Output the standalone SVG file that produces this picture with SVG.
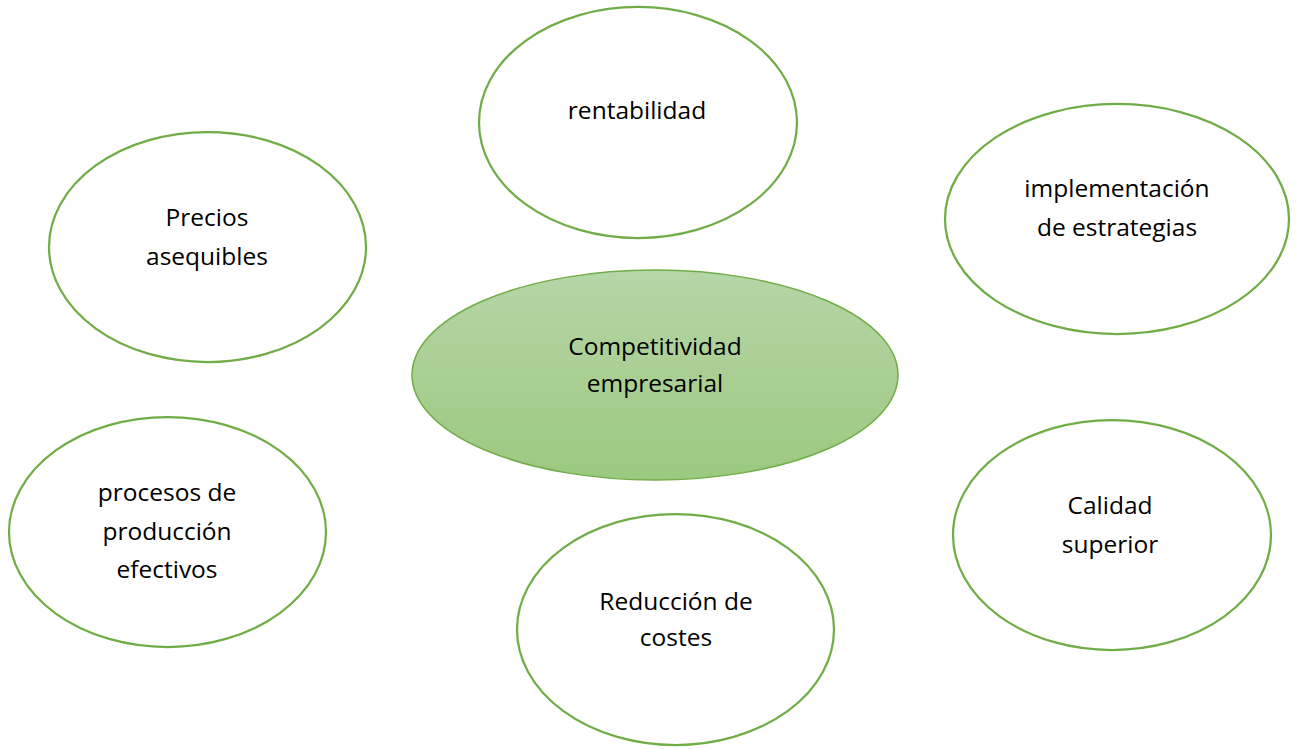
<svg xmlns="http://www.w3.org/2000/svg" width="1299" height="749" viewBox="0 0 1299 749">
<style>
.node{fill:#ffffff;stroke:#70ad47;stroke-width:2.25}
.center{stroke:#70ad47;stroke-width:1.5}
text{font-family:"Open Sans","Liberation Sans",sans-serif;font-size:24.5px;fill:#000000;text-anchor:middle}
</style>
<defs>
<linearGradient id="g" x1="0" y1="0" x2="0" y2="1">
<stop offset="0" stop-color="#b5d6a7"/>
<stop offset="0.5" stop-color="#aacf94"/>
<stop offset="1" stop-color="#9bc97f"/>
</linearGradient>
</defs>
<g id="connectors"></g>
<g id="n-rentabilidad">
<ellipse class="node" cx="638" cy="122.5" rx="159" ry="115.5"/>
<text x="637" y="119">rentabilidad</text>
</g>
<g id="n-implementacion">
<ellipse class="node" cx="1117" cy="219" rx="172" ry="115"/>
<text x="1117" y="197">implementación</text>
<text x="1117" y="236">de estrategias</text>
</g>
<g id="n-precios">
<ellipse class="node" cx="207.5" cy="247" rx="158.5" ry="115"/>
<text x="207" y="226">Precios</text>
<text x="207" y="265">asequibles</text>
</g>
<g id="n-competitividad">
<ellipse class="center" fill="url(#g)" cx="655" cy="375" rx="243" ry="105"/>
<text x="655" y="355">Competitividad</text>
<text x="655" y="392">empresarial</text>
</g>
<g id="n-procesos">
<ellipse class="node" cx="167.5" cy="532" rx="158.5" ry="115"/>
<text x="167" y="501">procesos de</text>
<text x="167" y="540">producción</text>
<text x="167" y="578">efectivos</text>
</g>
<g id="n-reduccion">
<ellipse class="node" cx="675.5" cy="629.5" rx="158.5" ry="115.5"/>
<text x="676" y="610">Reducción de</text>
<text x="676" y="646">costes</text>
</g>
<g id="n-calidad">
<ellipse class="node" cx="1112" cy="535" rx="159" ry="115"/>
<text x="1110" y="514">Calidad</text>
<text x="1110" y="553">superior</text>
</g>
</svg>
